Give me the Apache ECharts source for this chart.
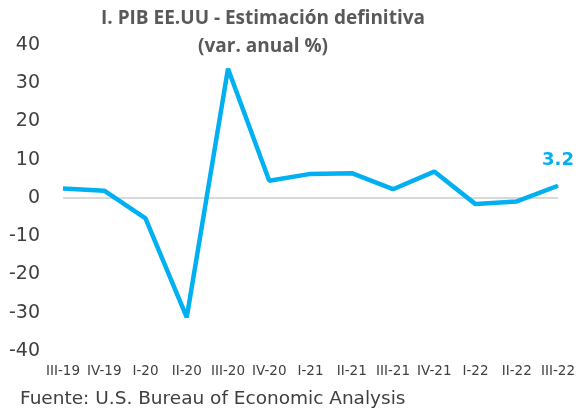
<!DOCTYPE html>
<html>
<head>
<meta charset="utf-8">
<script src="https://cdn.jsdelivr.net/npm/echarts@6/dist/echarts.min.js"></script>
<style>html,body{margin:0;padding:0;background:#fff}#c{width:578px;height:413px}</style>
</head>
<body>
<div id="c"></div>
<script>
var categories = ['III-19','IV-19','I-20','II-20','III-20','IV-20','I-21','II-21','III-21','IV-21','I-22','II-22','III-22'];
var gdpValues = [2.5, 1.9, -5.3, -31.2, 33.8, 4.5, 6.3, 6.5, 2.3, 6.9, -1.6, -0.9, 3.2];
var yTicks = {min: -40, max: 40, step: 10};

var chart = echarts.init(document.getElementById('c'), null, {renderer: 'canvas'});
var TFONT = '"Open Sans", Lato, sans-serif';
var FONT = '"DejaVu Sans", sans-serif';
var lastIdx = gdpValues.length - 1;
var seriesData = gdpValues.map(function (v, i) {
  if (i === lastIdx) {
    return {value: v, symbolSize: 1, label: {show: true, position: 'top', distance: 16,
      formatter: function (p) { return p.value.toFixed(1); },
      color: '#00B0F0', fontSize: 18, fontWeight: 'bold', fontFamily: FONT}};
  }
  return v;
});

chart.setOption({
  animation: false,
  backgroundColor: '#ffffff',
  title: {
    text: 'I. PIB EE.UU - Estimación definitiva\n(var. anual %)',
    left: 258, top: 0, textAlign: 'center',
    textStyle: {fontSize: 19, fontWeight: 'bold', color: '#595959', fontFamily: TFONT, lineHeight: 28}
  },
  graphic: [{
    type: 'text', left: 20, top: 390,
    style: {text: 'Fuente: U.S. Bureau of Economic Analysis', fontSize: 18.5, fill: '#404040', fontFamily: FONT}
  }],
  grid: {left: 63, right: 20, top: 45, bottom: 62, containLabel: false},
  xAxis: {
    type: 'category', data: categories, boundaryGap: false,
    axisLine: {show: false}, axisTick: {show: false}, splitLine: {show: false},
    axisLabel: {interval: 0, fontSize: 13.5, color: '#404040', fontFamily: FONT, margin: 13}
  },
  yAxis: {
    type: 'value', min: yTicks.min, max: yTicks.max, interval: yTicks.step,
    axisLine: {show: false}, axisTick: {show: false}, splitLine: {show: false},
    axisLabel: {fontSize: 19, color: '#404040', fontFamily: FONT, margin: 23}
  },
  series: [{
    type: 'line', data: seriesData, symbol: 'circle', symbolSize: 0, showSymbol: true, smooth: false,
    lineStyle: {color: '#00B0F0', width: 4.5},
    itemStyle: {color: '#00B0F0'},
    labelLayout: {hideOverlap: false},
    z: 3,
    markLine: {
      silent: true, symbol: 'none', label: {show: false},
      lineStyle: {color: '#D9D9D9', width: 2, type: 'solid'},
      data: [{yAxis: 0}],
      z: 1
    }
  }]
});
</script>
</body>
</html>
